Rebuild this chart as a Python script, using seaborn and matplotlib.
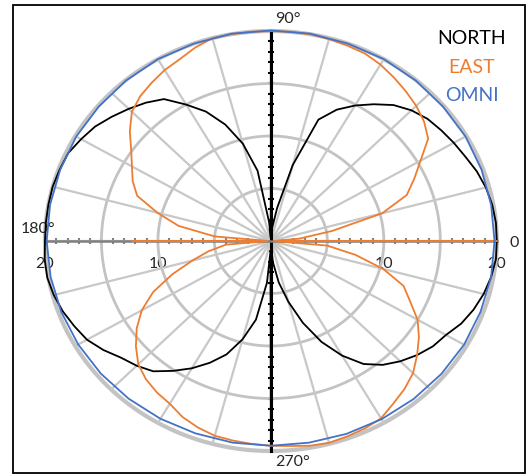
import numpy as np
import pandas as pd
import matplotlib
matplotlib.use('Agg')
import matplotlib.pyplot as plt
import seaborn as sns
from matplotlib.patches import Rectangle

# radiation patterns, radius in plot units (0-20), angle in degrees
north_deg = [0, 5, 10, 15, 20, 25, 30, 35, 40, 45, 50, 55, 60, 65, 70, 75, 80, 85, 88, 90,
             92, 95, 100, 105, 110, 115, 120, 125, 130, 135, 140, 145, 150, 155, 160, 165,
             170, 175, 180, 185, 190, 195, 200, 205, 210, 215, 220, 225, 230, 235, 240, 245,
             250, 255, 260, 265, 268, 270, 272, 275, 280, 285, 290, 295, 300, 305, 310, 315,
             320, 325, 330, 335, 340, 345, 350, 355, 360]
north_r = [20, 20, 19.9, 19.7, 19.4, 19.0, 18.7, 18.4, 18.1, 17.6, 16.9, 15.9, 14.9, 13.8,
           12.3, 7.5, 3.2, 1.2, 0.3, 20,
           0.3, 1.8, 6.8, 9.6, 11.8, 13.6, 15.0, 16.5, 17.2, 17.8, 18.4, 19.0, 19.4, 19.8,
           19.9, 20, 20, 20, 20, 20.1, 20.1, 19.9, 19.6, 19.2, 18.8, 18.1, 17.3, 16.8,
           16.2, 15.1, 14.0, 12.8, 11.5, 9.7, 7.6, 4.0, 1.0, 20, 0.3, 2.0, 4.0, 6.0, 8.3,
           10.6, 12.6, 14.3, 15.4, 16.2, 16.9, 17.5, 17.9, 18.6, 19.1, 19.5, 19.8, 20, 20]

east_deg = [0, 2, 5, 10, 15, 20, 25, 30, 35, 40, 45, 50, 55, 60, 65, 70, 75, 80, 85, 90,
            95, 100, 105, 110, 115, 120, 125, 130, 135, 140, 145, 150, 155, 160, 165, 170,
            175, 178, 180, 182, 185, 190, 195, 200, 205, 210, 215, 220, 225, 230, 235, 240,
            245, 250, 255, 260, 265, 270, 275, 280, 285, 290, 295, 300, 305, 310, 315, 320,
            325, 330, 335, 340, 345, 350, 355, 358, 360]
east_r = [20, 0.3, 2.5, 5.5, 10.2, 12.8, 14.0, 15.3, 17.0, 17.7, 18.2, 18.6, 19.0, 19.4,
          19.7, 19.8, 19.9, 20, 20, 20, 20, 20, 20, 19.6, 19.1, 18.8, 18.4, 18.0, 17.4,
          16.3, 15.1, 14.2, 13.5, 12.6, 10.4, 8.3, 5.0, 0.3, 12.3, 0.3, 4.0, 5.6, 7.2,
          9.3, 11.5, 13.2, 14.5, 15.6, 16.6, 17.2, 17.6, 17.9, 18.5, 18.9, 19.2, 19.3,
          19.4, 19.5, 19.6, 19.8, 19.9, 19.8, 19.7, 19.5, 18.9, 18.4, 17.8, 16.9, 16.0,
          15.0, 13.6, 12.5, 10.3, 7.6, 5.0, 0.3, 20]

omni_deg = list(range(0, 361, 10))
omni_r = [19.8, 19.8, 19.85, 19.9, 19.9, 19.95, 20, 20, 20.05, 20.05, 20.05, 20, 20, 19.95,
          19.9, 19.9, 19.85, 19.85, 19.85, 19.8, 19.75, 19.7, 19.65, 19.6, 19.55, 19.5,
          19.5, 19.5, 19.5, 19.55, 19.6, 19.65, 19.7, 19.75, 19.75, 19.8, 19.8]

series = ['NORTH', 'EAST', 'OMNI']
colors = {'NORTH': 'black', 'EAST': '#ED7D31', 'OMNI': '#4472C4'}

rings = [5, 10, 15, 20]
spoke_step = 15
r_max = 20

frames = []
for name, deg, r in [('NORTH', north_deg, north_r), ('EAST', east_deg, east_r),
                     ('OMNI', omni_deg, omni_r)]:
    th = np.radians(deg)
    frames.append(pd.DataFrame({'series': name,
                                'x': np.array(r) * np.cos(th),
                                'y': np.array(r) * np.sin(th)}))
df = pd.concat(frames, ignore_index=True)

sns.set_style('white')
plt.rcParams['font.family'] = ['Lato', 'DejaVu Sans']

fig = plt.figure(figsize=(5.29, 4.76), dpi=100)
ax = fig.add_axes([0.0423, 0.0084, 0.9395, 0.9706])
ax.set_xlim(-22, 22)
ax.set_ylim(-22, 22)

# polar grid
t = np.linspace(0, 2 * np.pi, 400)
for rr in rings:
    ax.plot(rr * np.cos(t), rr * np.sin(t), color='#c3c3c3',
            lw=3.0 if rr == r_max else 2.0, zorder=1)
for a in range(0, 360, spoke_step):
    ar = np.radians(a)
    ax.plot([0, r_max * np.cos(ar)], [0, r_max * np.sin(ar)], color='#c8c8c8',
            lw=1.6, zorder=1)

sns.lineplot(data=df, x='x', y='y', hue='series', hue_order=series, palette=colors,
             sort=False, estimator=None, legend=False, lw=1.3, ax=ax, zorder=4)

# axes through the origin
for s in ['top', 'right']:
    ax.spines[s].set_visible(False)
ax.spines['bottom'].set_position('zero')
ax.spines['left'].set_position('zero')
ax.spines['bottom'].set_bounds(-20, 20)
ax.spines['left'].set_bounds(-20, 20)
ax.spines['bottom'].set_color('#7f7f7f')
ax.spines['bottom'].set_linewidth(1.8)
ax.spines['left'].set_color('black')
ax.spines['left'].set_linewidth(2.2)
ax.spines['bottom'].set_zorder(3)
ax.spines['left'].set_zorder(3)

xt = np.arange(-20, 21, 1)
ax.set_xticks(xt)
ax.set_xticklabels([str(abs(v)) if abs(v) in (10, 20) else '' for v in xt])
ax.set_yticks(xt)
ax.set_yticklabels([])
ax.tick_params(axis='x', bottom=True, direction='inout', length=5, width=1.5,
               color='#7f7f7f', labelsize=11.5, pad=9)
ax.tick_params(axis='y', left=True, direction='inout', length=5, width=1.5, color='black')
ax.set_xlabel('')
ax.set_ylabel('')

ax.text(21.5, -0.2, '0', ha='center', va='center', fontsize=11.5)
ax.text(-20.6, 1.15, '180°', ha='center', va='center', fontsize=11.5)
ax.text(0.35, 21.1, '90°', ha='left', va='center', fontsize=11.5)
ax.text(0.35, -21.05, '270°', ha='left', va='center', fontsize=11.5)

leg_y = [19.33, 16.57, 13.9]
for name, yy in zip(series, leg_y):
    ax.text(17.8, yy, name, ha='center', va='center', fontsize=14, color=colors[name])

fig.patches.append(Rectangle((0.0246, 0.0063), 0.968, 0.983, transform=fig.transFigure,
                             fill=False, edgecolor='black', lw=1.3))

fig.savefig('out.png', dpi=100)
